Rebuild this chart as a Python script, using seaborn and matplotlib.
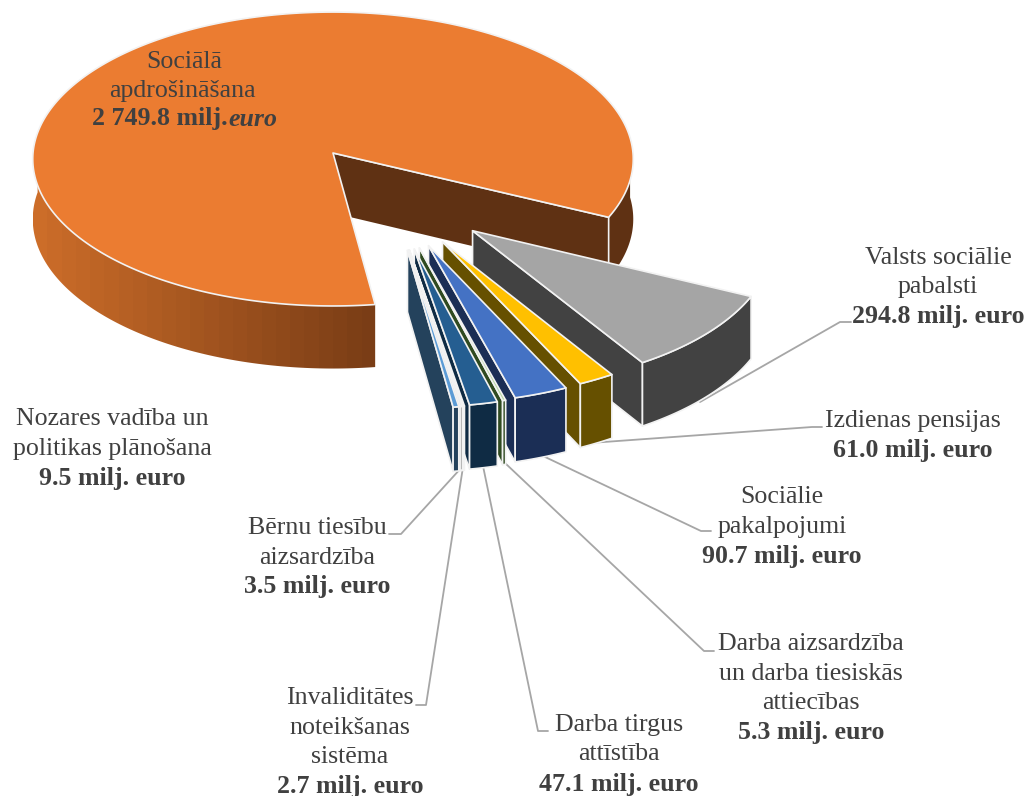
import numpy as np
import seaborn as sns
import matplotlib.pyplot as plt
from matplotlib.colors import LinearSegmentedColormap
from matplotlib.patches import Polygon

# Budzeta dati (milj. euro)
nozares = ['Sociālā apdrošināšana', 'Valsts sociālie pabalsti', 'Izdienas pensijas',
           'Sociālie pakalpojumi', 'Darba aizsardzība', 'Darba tirgus attīstība',
           'Invaliditātes noteikšana', 'Bērnu tiesību aizsardzība', 'Nozares vadība']
vertibas = [2749.8, 294.8, 61.0, 90.7, 5.3, 47.1, 2.7, 3.5, 9.5]
krasas_virsa = ['#EB7C31', '#A5A5A5', '#FFC000', '#4472C4', '#B5D6A0', '#255E91', '#D9D9D9', '#E4E4E4', '#5B9BD5']
krasas_mala = ['#5F3113', '#424242', '#665000', '#1B2E55', '#2F4A20', '#0F2B44', '#5A5A5A', '#5A5A5A', '#24425C']

# Etiketes: teksts, centrs, rindas
etiketes = [
    (['Valsts sociālie', 'pabalsti'], '294.8 milj. euro', 938, 257.5),
    (['Izdienas pensijas'], '61.0 milj. euro', 913, 421),
    (['Sociālie', 'pakalpojumi'], '90.7 milj. euro', 782, 497),
    (['Darba aizsardzība', 'un darba tiesiskās', 'attiecības'], '5.3 milj. euro', 811, 644),
    (['Darba tirgus', 'attīstība'], '47.1 milj. euro', 619, 725),
    (['Invaliditātes', 'noteikšanas', 'sistēma'], '2.7 milj. euro', 350, 698),
    (['Bērnu tiesību', 'aizsardzība'], '3.5 milj. euro', 317, 528),
    (['Nozares vadība un', 'politikas plānošana'], '9.5 milj. euro', 112, 419),
]
lideri = [
    ([851, 840, 700], [322, 322, 402]),
    ([822, 812, 590], [427, 427, 443]),
    ([543, 701, 711], [456, 531, 531]),
    ([505, 704, 714], [463, 651, 651]),
    ([483, 538, 548], [466, 731, 731]),
    ([463, 426, 416], [467, 705, 705]),
    ([462, 401, 389], [467, 534, 534]),
]

CX, CY = 333, 153
A, B = 300, 146.7
K = 0.041
H = 60
EXPLODE = 0.69
R_IZB = 0.98
SAK = -25.5


def proj(u, v, dz=0):
    # vienkarsa perspektiva: v > 0 ir tuvak skatitajam
    s = 1 / (1 - K * v)
    return CX + A * u * s, CY + B * v * s + H * dz * s


def arc(du, dv, a0, a1, r=1.0):
    t = np.radians(np.linspace(a0, a1, max(3, int(abs(a1 - a0) * 2))))
    return du + r * np.cos(t), dv - r * np.sin(t)


def poly(ax, xy, color, ec='#F2F2F2', lw=1.2, z=2):
    ax.add_patch(Polygon(xy, closed=True, facecolor=color, edgecolor=ec, linewidth=lw, joinstyle='round', zorder=z))


def orange_wall(ax, a0, a1, z):
    # gradienta mala: attels apgriezts pec malas formas
    u, v = arc(0, 0, a0, a1)
    xt, yt = proj(u, v)
    xb, yb = proj(u, v, 1)
    xy = np.r_[np.c_[xt, yt], np.c_[xb, yb][::-1]]
    cmap = LinearSegmentedColormap.from_list('mala', ['#CC6D29', '#7A3D16'])
    im = ax.imshow(np.linspace(0, 1, 24)[None, :], cmap=cmap, aspect='auto', zorder=z,
                   extent=(xy[:, 0].min(), xy[:, 0].max(), xy[:, 1].max(), xy[:, 1].min()))
    clip = Polygon(xy, closed=True, transform=ax.transData)
    im.set_clip_path(clip)


sns.set_theme(style='white')
plt.rcParams['font.family'] = ['Liberation Serif', 'DejaVu Serif']

fig = plt.figure(figsize=(10.29, 7.96), dpi=100)
ax = fig.add_axes([0, 0, 1, 1])

for lx, ly in lideri:
    ax.plot(lx, ly, color='#A6A6A6', lw=1.3, zorder=1)

# Lenki: oranzais sektors iet pret pulksteni no SAK
leni = np.array(vertibas) / sum(vertibas) * 360
beigu = SAK + leni[0]

u, v = arc(0, 0, SAK, beigu)
xt, yt = proj(u, v)
x0b, y0b = proj(0, 0, 1)
xe, ye = proj(u[0], v[0])
x1b, y1b = proj(u[0], v[0], 1)

# aizmugures ara mala (labaja puse)
u2, v2 = arc(0, 0, SAK, 6)
xa, ya = proj(u2, v2)
xc, yc = proj(u2, v2, 1)
poly(ax, np.r_[np.c_[xa, ya], np.c_[xc, yc][::-1]], krasas_mala[0], ec='none', lw=0, z=2)
# iekseja mala
poly(ax, [(CX, CY), (xe, ye), (x1b, y1b), (x0b, y0b)], krasas_mala[0], ec='none', lw=0, z=2)
ax.plot([CX, xe, xe], [CY, ye, y1b], color='#F2F2F2', lw=1.2, zorder=3)
orange_wall(ax, beigu, 172, 3)
poly(ax, np.r_[[(CX, CY)], np.c_[xt, yt]], krasas_virsa[0], z=4)

# Izbiditie sektori, pulksteņraditaja virziena
a_end = SAK
z = 5
for i in range(1, len(vertibas)):
    a0 = a_end
    a1 = a_end - leni[i]
    a_end = a1
    mid = (a0 + a1) / 2
    # izbidijuma virziens ir saspiests pret skata asi
    vir = np.radians(-27 + 0.52 * mid)
    du, dv = EXPLODE * np.cos(vir), -EXPLODE * np.sin(vir)
    u, v = arc(du, dv, a0, a1, R_IZB)
    xt, yt = proj(u, v)
    xb, yb = proj(u, v, 1)
    ax_, ay_ = proj(du, dv)
    bx_, by_ = proj(du, dv, 1)
    # sanu mala
    poly(ax, [(ax_, ay_), (xt[-1], yt[-1]), (xb[-1], yb[-1]), (bx_, by_)], krasas_mala[i], z=z)
    # ara mala
    poly(ax, np.r_[np.c_[xt, yt], np.c_[xb, yb][::-1]], krasas_mala[i], z=z)
    # virsa
    poly(ax, np.r_[[(ax_, ay_)], np.c_[xt, yt]], krasas_virsa[i], z=z + 0.5)
    z += 1

# Teksti
FS = 18.6
TC = '#404040'
LH = 29.5
for rindas, vert, x, y in etiketes:
    for j, r in enumerate(rindas):
        ax.text(x, y + j * LH, r, ha='center', va='center', fontsize=FS, color=TC, zorder=30)
    ax.text(x, y + len(rindas) * LH, vert, ha='center', va='center', fontsize=FS, color=TC,
            fontweight='bold', zorder=30)

ax.text(184, 61.5, 'Sociālā', ha='center', va='center', fontsize=FS, color=TC, zorder=30)
ax.text(182, 91.5, 'apdrošināšana', ha='center', va='center', fontsize=FS, color=TC, zorder=30)
ax.text(228, 119, '2 749.8 milj.', ha='right', va='center', fontsize=FS, color=TC, fontweight='bold', zorder=30)
ax.text(228, 119, 'euro', ha='left', va='center', fontsize=FS, color=TC, fontweight='bold', style='italic', zorder=30)

ax.set_xlim(0, 1029)
ax.set_ylim(796, 0)
ax.axis('off')

fig.savefig('out.png', dpi=100)
